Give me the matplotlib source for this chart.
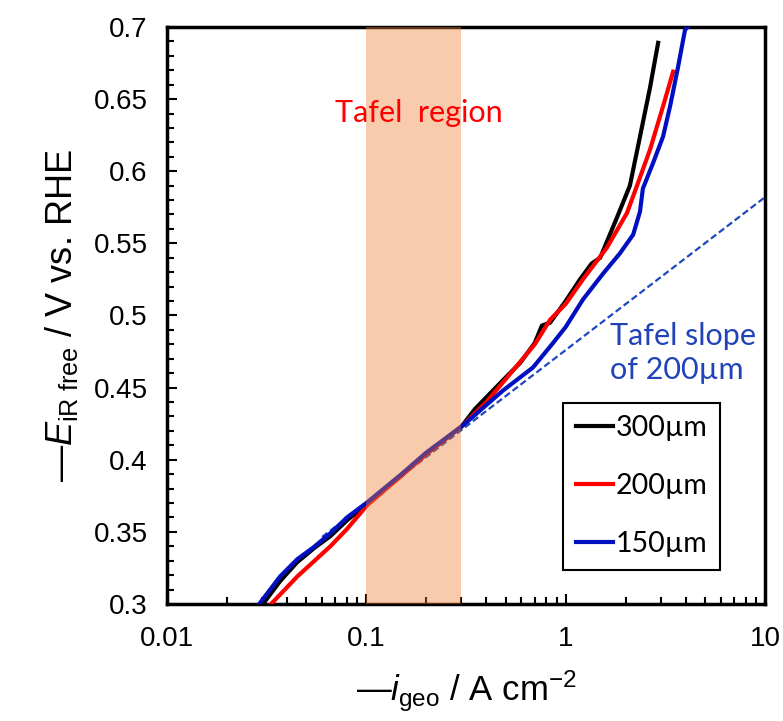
import numpy as np
import matplotlib
matplotlib.use("Agg")
import matplotlib.pyplot as plt
from matplotlib.ticker import MultipleLocator, LogLocator, FixedFormatter, FixedLocator

plt.rcParams['font.family'] = ['Liberation Sans', 'DejaVu Sans']
plt.rcParams['mathtext.fontset'] = 'custom'
plt.rcParams['mathtext.rm'] = 'Liberation Sans'
plt.rcParams['mathtext.it'] = 'Liberation Sans:italic'

# current density (A cm-2) vs potential (V vs RHE)
x_300 = [0.0303, 0.037, 0.045, 0.055, 0.066, 0.08, 0.1, 0.15, 0.2, 0.3, 0.35, 0.418,
         0.5, 0.59, 0.7, 0.76, 0.835, 1.0, 1.18, 1.35, 1.49, 1.81, 2.1, 2.36, 2.65, 2.91]
y_300 = [0.300, 0.316, 0.329, 0.339, 0.347, 0.358, 0.369, 0.389, 0.404, 0.423, 0.435, 0.446,
         0.457, 0.467, 0.481, 0.493, 0.495, 0.510, 0.525, 0.536, 0.540, 0.568, 0.590, 0.624, 0.658, 0.689]

x_200 = [0.0333, 0.045, 0.055, 0.066, 0.08, 0.0962, 0.1, 0.15, 0.2, 0.3, 0.4, 0.545,
         0.7, 0.835, 1.0, 1.22, 1.61, 2.03, 2.28, 2.65, 3.08, 3.46]
y_200 = [0.300, 0.319, 0.330, 0.340, 0.352, 0.365, 0.368, 0.389, 0.404, 0.423, 0.440, 0.462,
         0.480, 0.497, 0.508, 0.525, 0.547, 0.571, 0.590, 0.615, 0.645, 0.669]

x_150 = [0.029, 0.0369, 0.045, 0.054, 0.066, 0.08, 0.1, 0.15, 0.2, 0.3, 0.331, 0.485,
         0.686, 0.865, 1.0, 1.22, 1.54, 1.87, 2.18, 2.36, 2.44, 2.75, 3.08, 3.34, 3.66, 3.97, 4.1]
y_150 = [0.300, 0.319, 0.331, 0.339, 0.349, 0.360, 0.370, 0.390, 0.405, 0.423, 0.428, 0.448,
         0.464, 0.481, 0.492, 0.511, 0.529, 0.543, 0.556, 0.572, 0.588, 0.606, 0.624, 0.645, 0.672, 0.698, 0.70]

# Tafel fit line for 200um
tafel_x = [0.06, 10]
tafel_y = [0.3465, 0.582]

# Tafel region
region = [0.1, 0.3]

fig = plt.figure(figsize=(7.83, 7.21), dpi=100)
ax = fig.add_axes([0.2133, 0.1623, 0.7637, 0.8003])

ax.plot(tafel_x, tafel_y, color='#1F48C0', lw=1.6, ls=(0, (3, 1.5)), zorder=3)
ax.plot(x_300, y_300, color='black', lw=3, label='300µm', zorder=4)
ax.plot(x_200, y_200, color='#FF0000', lw=3, label='200µm', zorder=4)
ax.plot(x_150, y_150, color='#0010C0', lw=3, label='150µm', zorder=4)

ax.axvspan(region[0], region[1], color='#ED7D31', alpha=0.4, lw=0, zorder=6)

ax.set_xscale('log')
ax.set_xlim(0.01, 10)
ax.set_ylim(0.3, 0.7)

ax.xaxis.set_major_locator(FixedLocator([0.01, 0.1, 1, 10]))
ax.xaxis.set_major_formatter(FixedFormatter(['0.01', '0.1', '1', '10']))
ax.xaxis.set_minor_locator(LogLocator(base=10, subs=np.arange(2, 10)))
ax.xaxis.set_minor_formatter(plt.NullFormatter())
ax.yaxis.set_major_locator(MultipleLocator(0.05))
ax.yaxis.set_minor_locator(MultipleLocator(0.01))
ax.yaxis.set_major_formatter(plt.FuncFormatter(lambda v, p: ('%.2f' % v).rstrip('0')))

ax.tick_params(which='both', direction='in', top=False, right=False, width=1.5, labelsize=20)
ax.tick_params(which='major', length=7)
ax.tick_params(which='minor', length=5)
ax.tick_params(axis='y', pad=14)
ax.tick_params(axis='x', pad=16)
for s in ax.spines.values():
    s.set_linewidth(2.5)

ax.set_ylabel('—$\\mathit{E}_{\\mathrm{iR\\ free}}$ / V vs. RHE', fontsize=26, labelpad=10)
ax.set_xlabel('—$\\mathit{i}_{\\mathrm{geo}}$ / A cm$^{\\mathrm{-2}}$', fontsize=25, labelpad=12)

ax.text(0.421, 0.851, 'Tafel  region', transform=ax.transAxes, color='#FF0000',
        fontsize=22, family=['Lato', 'DejaVu Sans'], ha='center', va='center', zorder=7)
ax.text(0.741, 0.488, 'Tafel slope\nof 200µm', transform=ax.transAxes, color='#2043B8',
        fontsize=22, family=['Lato', 'DejaVu Sans'], ha='left', va='top', linespacing=1.25, zorder=7)

leg = ax.legend(loc='lower left', bbox_to_anchor=(0.662, 0.059), fancybox=False,
                edgecolor='black', framealpha=1, handlelength=1.3, handletextpad=0.1,
                labelspacing=1.12, borderpad=0.45, borderaxespad=0,
                prop={'family': ['Lato', 'DejaVu Sans'], 'size': 20.5})
leg.get_frame().set_linewidth(1.5)
leg.set_zorder(8)

fig.savefig('out.png', dpi=100)
